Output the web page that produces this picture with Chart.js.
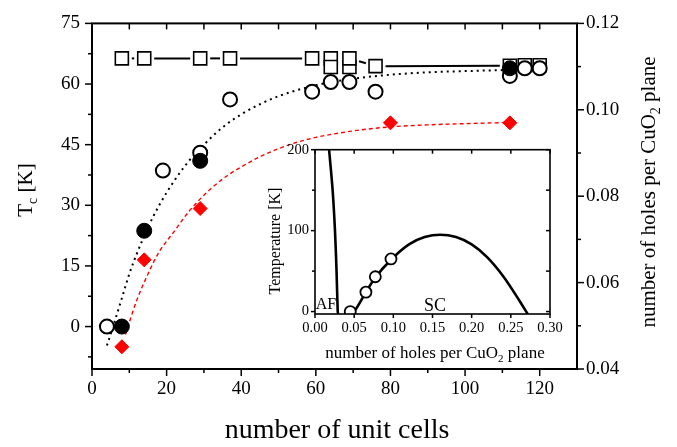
<!DOCTYPE html>
<html>
<head>
<meta charset="utf-8">
<script src="https://cdn.jsdelivr.net/npm/chart.js@4.4.0/dist/chart.umd.min.js"></script>
<style>
  html, body { margin: 0; padding: 0; background: #fff; }
  #wrap { position: relative; width: 677px; height: 447px; }
  #main { position: absolute; left: 0; top: 0; }
  #inset { position: absolute; left: 250px; top: 135px; }
</style>
</head>
<body>
<div id="wrap">
  <canvas id="main" width="677" height="447"></canvas>
  <canvas id="inset" width="320" height="230"></canvas>
</div>
<script>
// ── Main panel: Tc vs number of unit cells ──
const cellsOpen   = [4, 19, 29, 37, 59, 64, 69, 76, 112, 116, 120];
const tcOpen      = [0, 38.6, 43, 56.2, 58.1, 60.5, 60.5, 58.1, 62, 63.9, 63.9];
const cellsFilled = [8, 14, 29, 112];
const tcFilled    = [0, 23.7, 41, 63.9];
const cellsRed    = [8, 14, 29, 80, 112];
const tcRed       = [-5, 16.5, 29.2, 50.4, 50.4];

// holes per CuO2 plane (right axis)
const cellsHoles = [8, 14, 29, 37, 59, 64, 64, 69, 69, 76, 112, 116, 120];
const holes      = [0.1119, 0.1119, 0.1119, 0.1119, 0.1119, 0.1119, 0.1099, 0.1099, 0.1119, 0.1101, 0.1102, 0.1103, 0.1103];

// fitted curves
const fitBlackX = [4, 6, 8, 10, 12, 15, 18, 22, 26, 30, 35, 40, 45, 50, 60, 70, 80, 90, 100, 112];
const fitBlackY = [-4.7, 1, 7, 13, 18, 24.5, 30, 36, 41, 45, 49.3, 52.5, 55, 57, 59.7, 61.3, 62.3, 62.9, 63.2, 63.5];
const fitRedX   = [9, 10, 12, 15, 18, 22, 26, 30, 35, 40, 45, 50, 55, 60, 70, 80, 90, 100, 112];
const fitRedY   = [-2, 1, 6.5, 13, 18.5, 23.5, 28.5, 32.5, 36.5, 39.5, 42, 44, 45.6, 46.8, 48.4, 49.4, 49.9, 50.2, 50.5];

// ── Inset: phase diagram ──
const afP    = [0.018, 0.0225, 0.0255, 0.0275, 0.029, 0.0295];
const afT    = [200, 150, 100, 50, 0, -3];
const domeP  = [0.047, 0.05, 0.065, 0.077, 0.097, 0.12, 0.14, 0.16, 0.18, 0.20, 0.22, 0.24, 0.26, 0.2715];
const domeT  = [-3, 0, 24, 42, 64, 83, 92, 95, 92, 83, 67, 44, 15, -3];
const insetP = [0.045, 0.065, 0.077, 0.097];
const insetT = [0, 24, 43, 65];

// ── Ticks ──
const xMajor = [0, 20, 40, 60, 80, 100, 120];
const xMinor = [10, 30, 50, 70, 90, 110];
const xTop   = [0, 10, 20, 30, 40, 50, 60, 70, 80, 90, 100, 110, 120];
const yMajor = [0, 15, 30, 45, 60, 75];
const yMinor = [-7.5, 7.5, 22.5, 37.5, 52.5, 67.5];
const hMajor = [0.04, 0.06, 0.08, 0.10, 0.12];
const hMinor = [0.05, 0.07, 0.09, 0.11];
const pMajor = [0, 0.05, 0.10, 0.15, 0.20, 0.25, 0.30];
const tMajor = [0, 100, 200];
const tMinor = [50, 150];

const FONT = '"Liberation Serif", "Times New Roman", serif';
const pts = (xs, ys) => xs.map((x, i) => ({ x, y: ys[i] }));

// frame + tick marks, len > 0 points outward
const frameTicks = {
    id: 'frameTicks',
    afterDraw(chart, args, opts) {
        const ctx = chart.ctx, a = chart.chartArea;
        ctx.save();
        ctx.strokeStyle = '#000';
        (opts.marks || []).forEach(m => {
            const s = chart.scales[m.axis];
            ctx.lineWidth = m.width || 1.5;
            m.values.forEach(v => {
                const p = s.getPixelForValue(v);
                ctx.beginPath();
                if (m.side === 'bottom') { ctx.moveTo(p, a.bottom); ctx.lineTo(p, a.bottom + m.len); }
                if (m.side === 'top')    { ctx.moveTo(p, a.top);    ctx.lineTo(p, a.top - m.len); }
                if (m.side === 'left')   { ctx.moveTo(a.left, p);   ctx.lineTo(a.left - m.len, p); }
                if (m.side === 'right')  { ctx.moveTo(a.right, p);  ctx.lineTo(a.right + m.len, p); }
                ctx.stroke();
            });
        });
        ctx.lineWidth = opts.frame || 2;
        ctx.strokeRect(a.left, a.top, a.right - a.left, a.bottom - a.top);
        ctx.restore();
    }
};

// Origin-style line with gaps around the symbols
const gapLine = {
    id: 'gapLine',
    beforeDatasetsDraw(chart, args, opts) {
        if (opts.index === undefined) return;
        const meta = chart.getDatasetMeta(opts.index);
        const ctx = chart.ctx, gap = opts.gap;
        ctx.save();
        ctx.strokeStyle = '#000';
        ctx.lineWidth = opts.width;
        for (let i = 1; i < meta.data.length; i++) {
            const p0 = meta.data[i - 1], p1 = meta.data[i];
            const dx = p1.x - p0.x, dy = p1.y - p0.y, d = Math.hypot(dx, dy);
            if (d <= 2 * gap) continue;
            const ux = dx / d, uy = dy / d;
            ctx.beginPath();
            ctx.moveTo(p0.x + ux * gap, p0.y + uy * gap);
            ctx.lineTo(p1.x - ux * gap, p1.y - uy * gap);
            ctx.stroke();
        }
        ctx.restore();
    }
};

// text with subscripts, centred on (x, y)
function richText(ctx, parts, x, y, angle) {
    ctx.save();
    ctx.translate(x, y);
    ctx.rotate(angle || 0);
    ctx.fillStyle = '#000';
    ctx.textBaseline = 'alphabetic';
    ctx.textAlign = 'left';
    let w = 0;
    parts.forEach(p => { ctx.font = p.size + 'px ' + FONT; w += ctx.measureText(p.t).width; });
    const base = parts[0].size * 0.33;
    let cx = -w / 2;
    parts.forEach(p => {
        ctx.font = p.size + 'px ' + FONT;
        ctx.fillText(p.t, cx, base + (p.dy || 0));
        cx += ctx.measureText(p.t).width;
    });
    ctx.restore();
}

const titles = {
    id: 'titles',
    afterDraw(chart, args, opts) {
        (opts.items || []).forEach(it => richText(chart.ctx, it.parts, it.x, it.y, it.angle));
    }
};

function fixedTicks(values) {
    return s => { s.ticks = values.map(v => ({ value: v })); };
}
const noGrid = { display: false, drawTicks: false };

// ── Main chart ──
new Chart(document.getElementById('main'), {
    type: 'scatter',
    data: {
        datasets: [
            { data: pts(cellsFilled, tcFilled), pointStyle: 'circle', pointRadius: 7.5,
              backgroundColor: '#000', borderColor: '#000', borderWidth: 1 },
            { data: pts(cellsRed, tcRed), pointStyle: 'rectRot', pointRadius: 7,
              backgroundColor: '#ff0000', borderColor: '#ff0000', borderWidth: 1 },
            { data: pts(cellsOpen, tcOpen), pointStyle: 'circle', pointRadius: 7,
              backgroundColor: '#fff', borderColor: '#000', borderWidth: 2 },
            { data: pts(cellsHoles, holes), yAxisID: 'y2', showLine: false,
              pointStyle: 'rect', pointRadius: 9.2,
              pointBackgroundColor: '#fff', pointBorderColor: '#000', pointBorderWidth: 1.6 },
            { data: pts(fitBlackX, fitBlackY), showLine: true, pointRadius: 0,
              cubicInterpolationMode: 'monotone', borderColor: '#000', borderWidth: 2, borderDash: [2, 4] },
            { data: pts(fitRedX, fitRedY), showLine: true, pointRadius: 0,
              cubicInterpolationMode: 'monotone', borderColor: '#ff0000', borderWidth: 1.4, borderDash: [4, 3] }
        ]
    },
    options: {
        responsive: false, animation: false, events: [],
        layout: { padding: { top: 14, left: 0, right: 0, bottom: 0 } },
        plugins: {
            legend: { display: false }, tooltip: { enabled: false },
            gapLine: { index: 3, gap: 10, width: 2 },
            frameTicks: { frame: 2, marks: [
                { axis: 'x', side: 'bottom', values: xMajor, len: 7 },
                { axis: 'x', side: 'bottom', values: xMinor, len: 4 },
                { axis: 'x', side: 'top', values: xTop, len: -6 },
                { axis: 'y', side: 'left', values: yMajor, len: 7 },
                { axis: 'y', side: 'left', values: yMinor, len: 4 },
                { axis: 'y2', side: 'right', values: hMajor, len: 7 },
                { axis: 'y2', side: 'right', values: hMinor, len: 4 }
            ] },
            titles: { items: [
                { parts: [{ t: 'number of unit cells', size: 28 }], x: 337, y: 429 },
                { parts: [{ t: 'T', size: 21 }, { t: 'c', size: 14, dy: 5 }, { t: ' [K]', size: 21 }], x: 25, y: 190, angle: -Math.PI / 2 },
                { parts: [{ t: 'number of holes per CuO', size: 21 }, { t: '2', size: 14, dy: 5 }, { t: ' plane', size: 21 }], x: 648, y: 192, angle: -Math.PI / 2 }
            ] }
        },
        scales: {
            x: { type: 'linear', min: 0, max: 130, grid: noGrid, border: { display: false },
                 afterBuildTicks: fixedTicks(xMajor), afterFit: s => { s.height = 78; },
                 ticks: { color: '#000', padding: 9, font: { family: FONT, size: 19 } } },
            y: { type: 'linear', position: 'left', min: -10.5, max: 75, grid: noGrid, border: { display: false },
                 afterBuildTicks: fixedTicks(yMajor), afterFit: s => { s.width = 92; },
                 ticks: { color: '#000', padding: 12, font: { family: FONT, size: 19 } } },
            y2: { type: 'linear', position: 'right', min: 0.04, max: 0.12, grid: noGrid, border: { display: false },
                  afterBuildTicks: fixedTicks(hMajor), afterFit: s => { s.width = 100; },
                  ticks: { color: '#000', padding: 9, font: { family: FONT, size: 19 },
                           callback: v => v.toFixed(2) } }
        }
    },
    plugins: [gapLine, frameTicks, titles]
});

// ── Inset chart ──
new Chart(document.getElementById('inset'), {
    type: 'scatter',
    data: {
        datasets: [
            { data: pts(insetP, insetT), pointStyle: 'circle', pointRadius: 5.5,
              backgroundColor: '#fff', borderColor: '#000', borderWidth: 1.8 },
            { data: pts(domeP, domeT), showLine: true, pointRadius: 0,
              cubicInterpolationMode: 'monotone', borderColor: '#000', borderWidth: 2.6 },
            { data: pts(afP, afT), showLine: true, pointRadius: 0, tension: 0.3,
              borderColor: '#000', borderWidth: 2.6 }
        ]
    },
    options: {
        responsive: false, animation: false, events: [],
        layout: { padding: { top: 10, left: 0, right: 20, bottom: 0 } },
        plugins: {
            legend: { display: false }, tooltip: { enabled: false },
            frameTicks: { frame: 1.6, marks: [
                { axis: 'x', side: 'bottom', values: pMajor, len: 4 },
                { axis: 'x', side: 'top', values: pMajor, len: -4 },
                { axis: 'y', side: 'left', values: tMajor, len: 4 },
                { axis: 'y', side: 'left', values: tMinor, len: 3 },
                { axis: 'y', side: 'right', values: tMajor.concat(tMinor), len: -4 }
            ] },
            titles: { items: [
                { parts: [{ t: 'Temperature [K]', size: 16 }], x: 25, y: 106, angle: -Math.PI / 2 },
                { parts: [{ t: 'number of holes per CuO', size: 17 }, { t: '2', size: 11, dy: 4 }, { t: ' plane', size: 17 }], x: 185, y: 217 },
                { parts: [{ t: 'AF', size: 16 }], x: 76, y: 169 },
                { parts: [{ t: 'SC', size: 18 }], x: 185, y: 170 }
            ] }
        },
        scales: {
            x: { type: 'linear', min: 0, max: 0.3, grid: noGrid, border: { display: false },
                 afterBuildTicks: fixedTicks(pMajor), afterFit: s => { s.height = 51; },
                 ticks: { color: '#000', padding: 5, font: { family: FONT, size: 14.5 },
                          callback: v => v.toFixed(2) } },
            y: { type: 'linear', min: -3, max: 200, grid: noGrid, border: { display: false },
                 afterBuildTicks: fixedTicks(tMajor), afterFit: s => { s.width = 65; },
                 ticks: { color: '#000', padding: 6, font: { family: FONT, size: 14.5 } } }
        }
    },
    plugins: [frameTicks, titles]
});
</script>
</body>
</html>
